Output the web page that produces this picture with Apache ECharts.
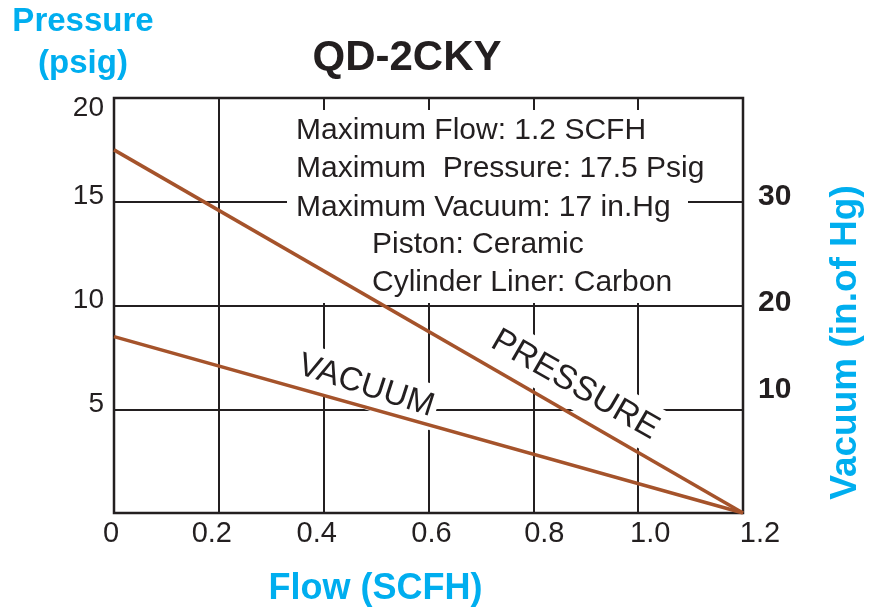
<!DOCTYPE html>
<html>
<head>
<meta charset="utf-8">
<script src="https://cdn.jsdelivr.net/npm/echarts@6/dist/echarts.min.js"></script>
<style>
  html, body { margin: 0; padding: 0; background: #fff; overflow: hidden; }
  #chart { width: 877px; height: 609px; }
</style>
</head>
<body>
<div id="chart"></div>
<script>
// flow (SCFH) end points of both curves
var flow = [0, 1.2];
// pressure in psig, left axis
var pressure = [17.5, 0];
// vacuum in in.Hg, right axis
var vacuum = [17, 0];

var specs = [
    'Maximum Flow: 1.2 SCFH',
    'Maximum  Pressure: 17.5 Psig',
    'Maximum Vacuum: 17 in.Hg',
    'Piston: Ceramic',
    'Cylinder Liner: Carbon'
];

var ink = '#231f20';
var cyan = '#00aeef';
var brown = '#a5532b';
var font = '"Liberation Sans", Arial, sans-serif';

function pairs(xs, ys) {
    return xs.map(function (x, i) { return [x, ys[i]]; });
}

// the printed flow labels drift a little right of their grid lines (px, by tick index)
var xShift = [-3, -7, -7, 3, 11, 12, 17];
var xRich = {};
xShift.forEach(function (d, i) {
    xRich['x' + i] = {
        fontFamily: font, fontSize: 29, color: ink,
        padding: d > 0 ? [0, 0, 0, 2 * d] : [0, -2 * d, 0, 0]
    };
});

var myChart = echarts.init(document.getElementById('chart'));

var option = {
    backgroundColor: '#fff',
    animation: false,
    title: {
        text: 'QD-2CKY',
        left: 402,
        top: 32,
        textAlign: 'center',
        textStyle: { fontFamily: font, fontSize: 42, fontWeight: 'bold', color: ink }
    },
    grid: {
        left: 114, right: 134, top: 98, bottom: 96,
        outerBoundsMode: 'none',
        containLabel: false,
        show: true,
        borderColor: ink,
        borderWidth: 2.5
    },
    xAxis: {
        type: 'value',
        min: 0, max: 1.2, interval: 0.2,
        name: 'Flow (SCFH)',
        nameLocation: 'middle',
        nameGap: 58,
        nameTextStyle: {
            fontFamily: font, fontSize: 36, fontWeight: 'bold', color: cyan,
            padding: [0, 106, 0, 0]
        },
        axisLine: { show: false },
        axisTick: { show: false },
        axisLabel: {
            margin: 6,
            formatter: function (v, i) {
                var s = v === 0 ? '0' : v.toFixed(1);
                return '{x' + i + '|' + s + '}';
            },
            rich: xRich
        },
        splitLine: { show: true, lineStyle: { color: ink, width: 2 } }
    },
    yAxis: [
        {
            type: 'value',
            min: 0, max: 20, interval: 5,
            name: 'Pressure\n(psig)',
            nameLocation: 'end',
            nameGap: 13,
            nameTextStyle: {
                fontFamily: font, fontSize: 33, fontWeight: 'bold', color: cyan,
                lineHeight: 42, align: 'center',
                padding: [0, 62, 0, 0]
            },
            axisLine: { show: false },
            axisTick: { show: false },
            axisLabel: {
                margin: 10,
                formatter: function (v) {
                    if (v === 0) return '';
                    return v === 20 ? '{t|' + v + '}' : '{n|' + v + '}';
                },
                rich: {
                    t: { fontFamily: font, fontSize: 28, color: ink, padding: [20, 0, 0, 0] },
                    n: { fontFamily: font, fontSize: 28, color: ink, padding: [0, 0, 10, 0] }
                }
            },
            splitLine: { show: true, lineStyle: { color: ink, width: 2 } }
        },
        {
            type: 'value',
            position: 'right',
            min: 0, max: 40, interval: 10,
            name: 'Vacuum (in.of Hg)',
            nameLocation: 'middle',
            nameGap: 84,
            nameTextStyle: {
                fontFamily: font, fontSize: 37, fontWeight: 'bold', color: cyan,
                padding: [0, 74, 0, 0]
            },
            axisLine: { show: false },
            axisTick: { show: false },
            splitLine: { show: false },
            axisLabel: {
                margin: 15,
                formatter: function (v) {
                    if (v === 0 || v === 40) return '';
                    return '{r' + v + '|' + v + '}';
                },
                rich: {
                    r10: { fontFamily: font, fontSize: 30, fontWeight: 'bold', color: ink, padding: [0, 0, 40, 0] },
                    r20: { fontFamily: font, fontSize: 30, fontWeight: 'bold', color: ink, padding: [0, 0, 6, 0] },
                    r30: { fontFamily: font, fontSize: 30, fontWeight: 'bold', color: ink, padding: [0, 0, 10, 0] }
                }
            }
        }
    ],
    graphic: [
        // white panel behind the spec text, hides the grid there
        {
            type: 'rect', z: 1,
            shape: { x: 287, y: 110, width: 401, height: 193 },
            style: { fill: '#fff' }
        },
        {
            type: 'text', z: 1, x: 366, y: 386, rotation: -18 * Math.PI / 180,
            style: {
                text: 'VACUUM', x: 0, y: 0, align: 'center', verticalAlign: 'middle',
                font: '33px ' + font, fill: ink,
                backgroundColor: '#fff', padding: [6, 4]
            }
        },
        {
            type: 'text', z: 1, x: 575, y: 385, rotation: -30 * Math.PI / 180,
            style: {
                text: 'PRESSURE', x: 0, y: 0, align: 'center', verticalAlign: 'middle',
                font: '34px ' + font, fill: ink,
                backgroundColor: '#fff', padding: [6, 4]
            }
        }
    ].concat(specs.map(function (s, i) {
        return {
            type: 'text', z: 3,
            x: i < 3 ? 296 : 372,
            y: [131, 169, 208, 245, 283][i],
            style: {
                text: s, align: 'left', verticalAlign: 'middle',
                font: '30px ' + font, fill: ink
            }
        };
    })),
    series: [
        {
            name: 'Pressure',
            type: 'line',
            yAxisIndex: 0,
            data: pairs(flow, pressure),
            symbol: 'none',
            lineStyle: { color: brown, width: 3.5 }
        },
        {
            name: 'Vacuum',
            type: 'line',
            yAxisIndex: 1,
            data: pairs(flow, vacuum),
            symbol: 'none',
            lineStyle: { color: brown, width: 3.5 }
        }
    ]
};

myChart.setOption(option);

window.addEventListener('resize', function () {
    myChart.resize();
});
</script>
</body>
</html>
